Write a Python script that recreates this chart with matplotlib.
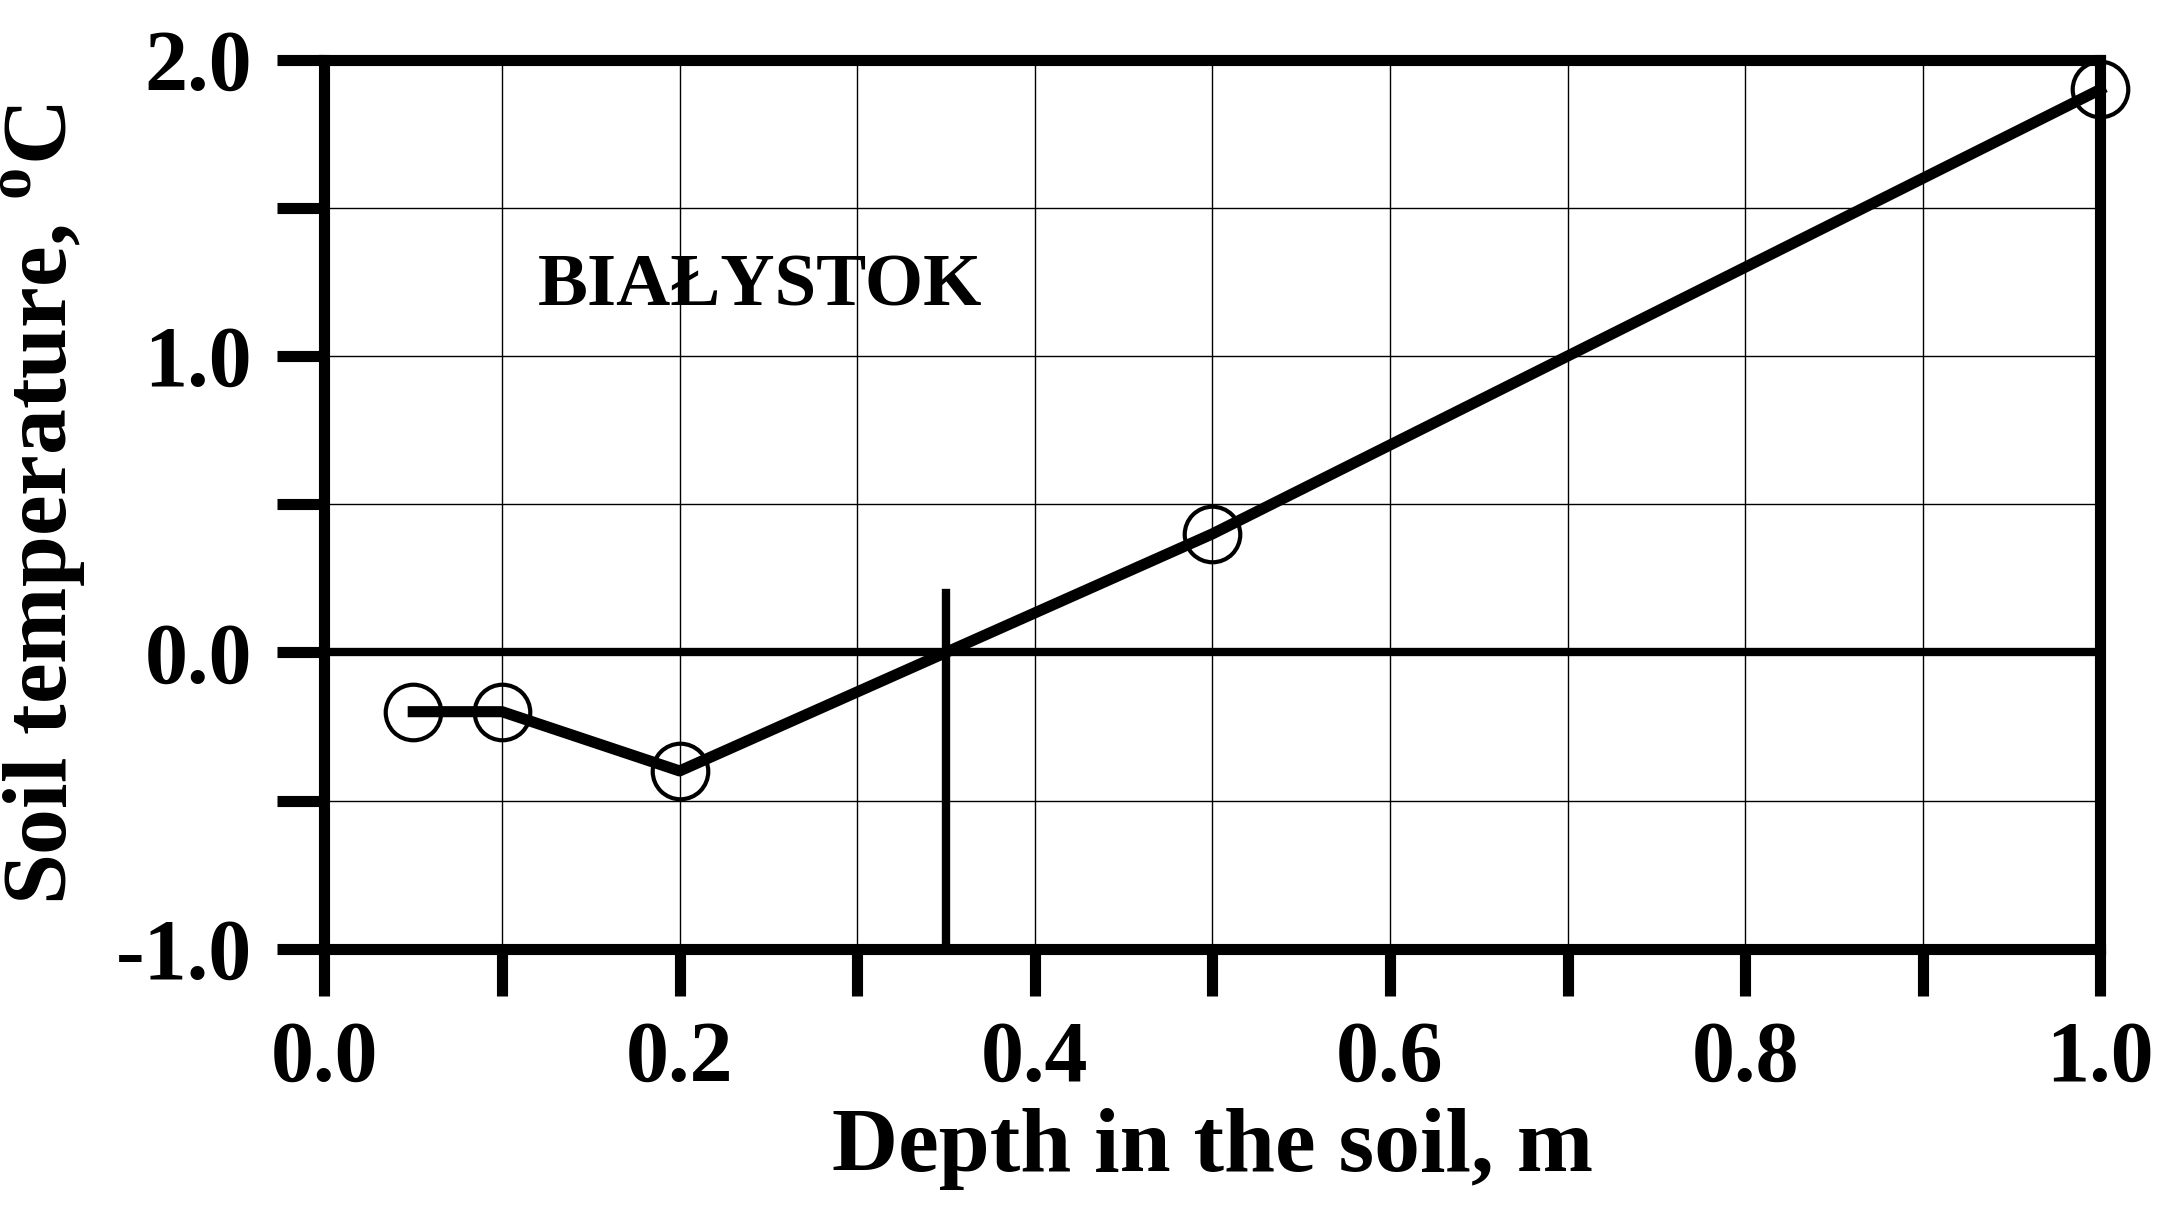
import matplotlib
matplotlib.use("Agg")
import matplotlib.pyplot as plt
from matplotlib.ticker import MultipleLocator

depth = [0.05, 0.1, 0.2, 0.5, 1.0]
temp = [-0.2, -0.2, -0.4, 0.4, 1.9]
zero_depth = 0.35
zero_line_top = 0.2
x_ticks = [0.0, 0.2, 0.4, 0.6, 0.8, 1.0]
y_ticks = [-1.0, 0.0, 1.0, 2.0]

plt.rcParams['font.family'] = ['Liberation Serif', 'DejaVu Serif']
plt.rcParams['font.weight'] = 'bold'
plt.rcParams['mathtext.fontset'] = 'custom'
plt.rcParams['mathtext.rm'] = 'Liberation Serif:bold'
plt.rcParams['mathtext.bf'] = 'Liberation Serif:bold'

fig = plt.figure(figsize=(21.63, 12.21), dpi=100)
ax = fig.add_axes([0.150, 0.223, 0.821, 0.728])
ax.set_xlim(0, 1.0)
ax.set_ylim(-1.0, 2.0)
ax.xaxis.set_minor_locator(MultipleLocator(0.1))
ax.yaxis.set_minor_locator(MultipleLocator(0.5))
ax.set_xticks(x_ticks)
ax.set_xticklabels([f"{v:.1f}" for v in x_ticks])
ax.set_yticks(y_ticks)
ax.set_yticklabels([f"{v:.1f}" for v in y_ticks])
ax.grid(True, which='both', color='black', linewidth=1)
ax.set_axisbelow(True)
for s in ax.spines.values():
    s.set_linewidth(8)
ax.tick_params(which='both', direction='out', width=8, length=34, labelsize=62, pad=18)
ax.axhline(0, color='black', linewidth=6)
ax.plot([zero_depth, zero_depth], [-1.0, zero_line_top], color='black', linewidth=6)
ax.plot(depth, temp, color='black', linewidth=8, marker='o', markersize=40,
        markerfacecolor='none', markeredgecolor='black', markeredgewidth=3, clip_on=False)
ax.text(0.12, 1.23, 'BIAŁYSTOK', fontsize=54, fontweight='bold', va='center')
ax.set_xlabel('Depth in the soil, m', fontsize=66, fontweight='bold', labelpad=6)
ax.set_ylabel('Soil temperature, $^{\\mathrm{o}}$C', fontsize=66, fontweight='bold', labelpad=20)
fig.savefig('out.png', dpi=100)
